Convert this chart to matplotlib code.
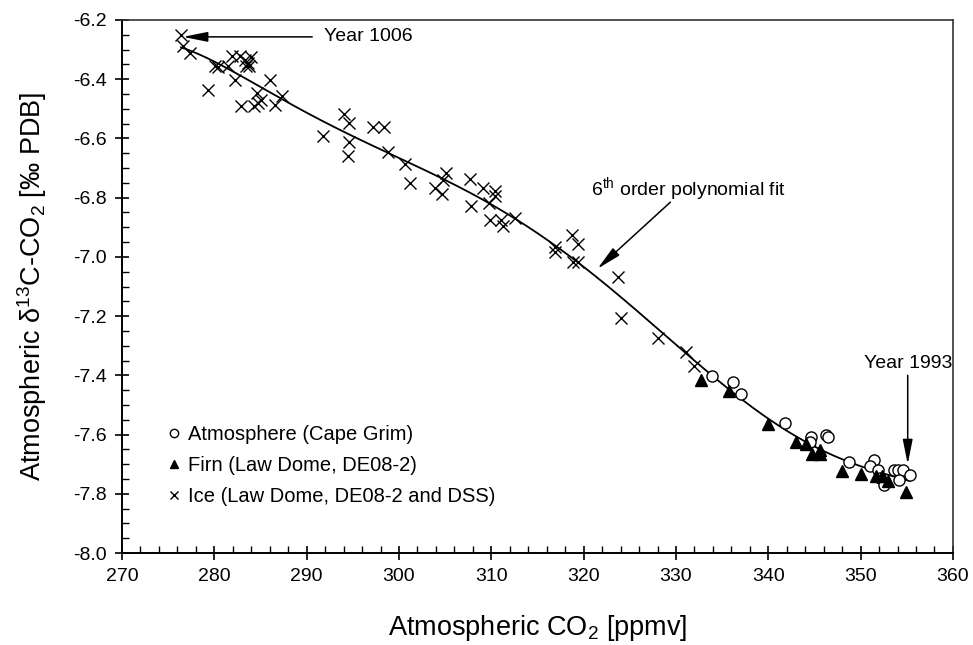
import numpy as np
import matplotlib
matplotlib.use("Agg")
import matplotlib.pyplot as plt
from matplotlib.ticker import MultipleLocator, FormatStrFormatter

plt.rcParams["font.family"] = ["Liberation Sans", "DejaVu Sans"]
plt.rcParams["mathtext.fontset"] = "custom"
plt.rcParams["mathtext.rm"] = "Liberation Sans"
plt.rcParams["mathtext.it"] = "Liberation Sans:italic"

# Law Dome ice (DE08-2 and DSS)
ice_co2 = [276.4, 276.6, 277.4, 279.35, 280.1, 280.4, 281.5, 281.9, 282.2,
           282.8, 283.3, 283.6, 284.0, 283.4, 283.7, 282.9, 284.6, 284.3,
           284.7, 285.0, 286.0, 286.6, 287.3, 291.8, 294.0, 294.6, 294.6,
           294.5, 297.2, 298.4, 298.85, 300.7, 301.2, 305.1, 304.8, 303.9,
           304.7, 307.7, 307.8, 309.1, 310.4, 310.4, 309.7, 309.9, 311.0,
           311.3, 312.6, 318.7, 319.4, 316.9, 316.9, 318.8, 319.4, 323.7,
           324.0, 328.0, 331.1, 331.9]
ice_d13c = [-6.251, -6.287, -6.312, -6.437, -6.357, -6.360, -6.357, -6.321, -6.404,
            -6.320, -6.335, -6.345, -6.325, -6.355, -6.355, -6.491, -6.447, -6.490,
            -6.480, -6.470, -6.402, -6.487, -6.457, -6.591, -6.517, -6.547, -6.611,
            -6.659, -6.561, -6.561, -6.647, -6.687, -6.750, -6.717, -6.739, -6.767,
            -6.787, -6.737, -6.828, -6.767, -6.777, -6.795, -6.817, -6.877, -6.877,
            -6.895, -6.867, -6.927, -6.957, -6.967, -6.984, -7.017, -7.017, -7.067,
            -7.205, -7.274, -7.320, -7.367]

# Law Dome firn (DE08-2)
firn_co2 = [332.7, 335.7, 340.0, 343.0, 344.1, 344.7, 345.6, 345.6,
            348.0, 350.0, 351.7, 352.3, 353.0, 354.9]
firn_d13c = [-7.417, -7.453, -7.564, -7.626, -7.633, -7.665, -7.665, -7.651,
             -7.723, -7.734, -7.740, -7.740, -7.756, -7.793]

# Cape Grim atmosphere
atm_co2 = [333.9, 336.2, 337.0, 341.8, 344.6, 344.5, 346.2, 346.5, 348.7,
           351.4, 351.0, 351.9, 352.1, 352.5, 353.6, 354.1, 354.6, 355.3, 354.2]
atm_d13c = [-7.402, -7.422, -7.464, -7.562, -7.609, -7.625, -7.600, -7.609, -7.693,
            -7.687, -7.707, -7.720, -7.745, -7.771, -7.720, -7.720, -7.720, -7.737, -7.754]

fig = plt.figure(figsize=(9.73, 6.45), dpi=100)
ax = fig.add_axes([0.1254, 0.1426, 0.854, 0.8264])

# 6th order polynomial through all records
all_x = np.array(ice_co2 + firn_co2 + atm_co2)
all_y = np.array(ice_d13c + firn_d13c + atm_d13c)
poly = np.polynomial.Polynomial.fit(all_x, all_y, 6)
xs = np.linspace(all_x.min(), all_x.max(), 400)
ax.plot(xs, poly(xs), color="black", lw=1.3, zorder=2)

ax.plot(atm_co2, atm_d13c, "o", ms=8, mfc="white", mec="black", mew=1.0,
        label="Atmosphere (Cape Grim)", zorder=3)
ax.plot(firn_co2, firn_d13c, "^", ms=8, mfc="black", mec="black",
        label="Firn (Law Dome, DE08-2)", zorder=3)
ax.plot(ice_co2, ice_d13c, "x", ms=8, mec="black", mew=1.0,
        label="Ice (Law Dome, DE08-2 and DSS)", zorder=3)

ax.set_xlim(270, 360)
ax.set_ylim(-8.0, -6.2)
ax.xaxis.set_major_locator(MultipleLocator(10))
ax.xaxis.set_minor_locator(MultipleLocator(2))
ax.yaxis.set_major_locator(MultipleLocator(0.2))
ax.yaxis.set_minor_locator(MultipleLocator(0.05))
ax.yaxis.set_major_formatter(FormatStrFormatter("%.1f"))
ax.tick_params(which="major", direction="inout", length=10, width=1.2,
               labelsize=14, pad=6, top=False, right=False)
ax.tick_params(which="minor", direction="in", length=5, width=1.0,
               top=False, right=False)
for side in ["left", "bottom"]:
    ax.spines[side].set_linewidth(1.4)
for side in ["top", "right"]:
    ax.spines[side].set_linewidth(1.2)
    ax.spines[side].set_color("#333333")

ax.set_xlabel("Atmospheric CO$_2$ [ppmv]", fontsize=19.5, labelpad=20)
ax.set_ylabel("Atmospheric δ$^{13}$C-CO$_2$ [‰ PDB]", fontsize=19.5, labelpad=17)

arrow = dict(arrowstyle="-|>,head_length=1.5,head_width=0.3", color="black",
             lw=1.1, mutation_scale=10, shrinkA=0, shrinkB=0)
ax.annotate("", xy=(276.6, -6.257), xytext=(290.6, -6.257), arrowprops=arrow)
ax.text(291.9, -6.257, "Year 1006", fontsize=14, ha="left", va="center")

ax.annotate("", xy=(321.5, -7.04), xytext=(329.4, -6.815), arrowprops=arrow)
ax.text(331.4, -6.77, "6$^{\\rm th}$ order polynomial fit", fontsize=14,
        ha="center", va="center")

ax.annotate("", xy=(355.1, -7.70), xytext=(355.1, -7.40), arrowprops=arrow)
ax.text(355.1, -7.375, "Year 1993", fontsize=14, ha="center", va="baseline")

leg = ax.legend(loc="lower left", bbox_to_anchor=(0.036, 0.062), frameon=False,
                fontsize=14.5, markerscale=0.75, handlelength=0.8,
                handletextpad=0.3, labelspacing=0.6, borderaxespad=0.3)

fig.savefig("out.png", dpi=100)
